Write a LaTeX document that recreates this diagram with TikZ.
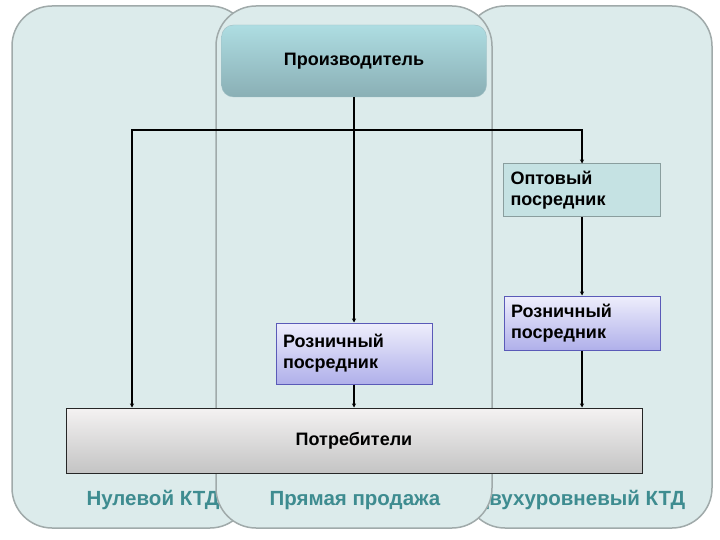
\documentclass[tikz,border=0pt]{standalone}
\usepackage{fontspec}
\setmainfont{Liberation Sans}
\usepackage{tikz}
\usetikzlibrary{arrows.meta, positioning}

\definecolor{panelfill}{RGB}{220,235,235}
\definecolor{paneldraw}{RGB}{160,170,170}
\definecolor{prodtop}{RGB}{174,221,226}
\definecolor{prodbot}{RGB}{138,175,181}
\definecolor{optfill}{RGB}{197,226,227}
\definecolor{optdraw}{RGB}{138,158,158}
\definecolor{rettop}{RGB}{238,238,252}
\definecolor{retbot}{RGB}{176,176,234}
\definecolor{retdraw}{RGB}{90,90,184}
\definecolor{constop}{RGB}{244,242,242}
\definecolor{consbot}{RGB}{196,196,196}
\definecolor{labelteal}{RGB}{62,140,144}

\begin{document}
\begin{tikzpicture}[
    x=1pt, y=-1pt,
    panel/.style={
        draw=paneldraw,
        fill=panelfill,
        line width=1.5pt,
        rounded corners=40pt
    },
    paneltext/.style={
        anchor=base,
        text=labelteal,
        font=\fontsize{20.5}{24}\selectfont\bfseries
    },
    prodbox/.style={
        top color=prodtop,
        bottom color=prodbot,
        draw=prodbot!80,
        rounded corners=12pt,
        minimum width=265pt,
        minimum height=72pt,
        font=\fontsize{18}{21}\selectfont\bfseries
    },
    optbox/.style={
        draw=optdraw,
        fill=optfill,
        line width=1pt,
        minimum width=157pt,
        minimum height=53pt,
        text width=143pt,
        inner sep=7pt,
        align=left,
        font=\fontsize{18}{21}\selectfont\bfseries
    },
    retbox/.style={
        draw=retdraw,
        top color=rettop,
        bottom color=retbot,
        line width=1pt,
        minimum width=156pt,
        minimum height=54pt,
        text width=142pt,
        inner sep=7pt,
        align=left,
        font=\fontsize{18}{21}\selectfont\bfseries
    },
    consbox/.style={
        draw=black!85,
        top color=constop,
        bottom color=consbot,
        line width=1pt,
        minimum width=576pt,
        minimum height=65pt,
        font=\fontsize{18}{21}\selectfont\bfseries
    },
    link/.style={
        line width=2pt,
        -{Stealth[length=4pt,width=4pt]}
    }
]

    \useasboundingbox[fill=white] (0,0) rectangle (720,540);

    % Panels (left, right, then middle on top)
    \draw[panel] (12,6) rectangle (250,528);
    \node[paneltext] (zeroLbl) at (153,505) {Нулевой КТД};
    \draw[panel] (465,6) rectangle (712,528);
    \node[paneltext] (twoLbl) at (580,505) {Двухуровневый КТД};
    \draw[panel] (216,6) rectangle (492,528);
    \node[paneltext] (directLbl) at (355,505) {Прямая продажа};

    % Boxes
    \node[prodbox] (prod) at (354,61) {Производитель};
    \node[optbox] (opt) at (582,190.5) {Оптовый\\посредник};
    \node[retbox] (retB) at (582,323) {Розничный\\посредник};
    \node[retbox, minimum width=155pt, minimum height=61pt] (retA) at (354,353.5) {Розничный\\посредник};
    \node[consbox] (cons) at (354,440.5) {Потребители};

    % Connectors
    \coordinate (split) at (354,130);
    \coordinate (zeroTop) at (132,130);
    \draw[link] (prod) -- (retA);
    \draw[link] (split) -| (opt.north);
    \draw[link] (split) -- (zeroTop) -- (zeroTop |- cons.north);
    \draw[link] (opt) -- (retB);
    \draw[link] (retA.south) -- (retA.south |- cons.north);
    \draw[link] (retB.south) -- (retB.south |- cons.north);

\end{tikzpicture}
\end{document}
